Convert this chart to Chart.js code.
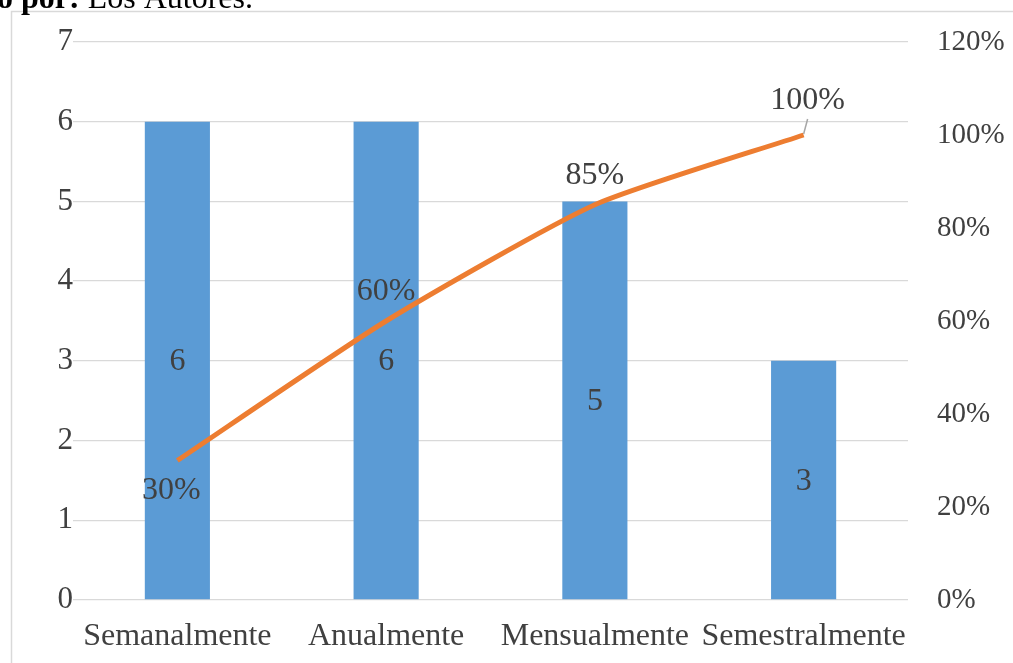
<!DOCTYPE html>
<html>
<head>
<meta charset="utf-8">
<script src="https://cdn.jsdelivr.net/npm/chart.js@4.4.0/dist/chart.umd.min.js"></script>
<style>
  html,body{margin:0;padding:0;background:#fff;overflow:hidden;}
  #wrap{position:relative;width:1013px;height:663px;}
</style>
</head>
<body>
<div id="wrap"><canvas id="c" width="1013" height="663"></canvas></div>
<script>
const categories = ['Semanalmente', 'Anualmente', 'Mensualmente', 'Semestralmente'];
const frequency = [6, 6, 5, 3];
const cumulativePct = [30, 60, 85, 100];
const leftTicks = [0, 1, 2, 3, 4, 5, 6, 7];
const rightTicks = [0, 20, 40, 60, 80, 100, 120];
const lineLabelSide = ['below', 'above', 'above', 'above'];
const captionBold = 'o por:';
const captionRest = ' Los Autores.';

const FONT = "'Liberation Serif', 'Times New Roman', serif";
const TEXT = '#404040';

const decor = {
  id: 'decor',
  beforeDraw(chart) {
    const ctx = chart.ctx;
    ctx.save();
    ctx.fillStyle = '#fff';
    ctx.fillRect(0, 0, chart.width, chart.height);
    ctx.strokeStyle = '#d9d9d9';
    ctx.lineWidth = 1.5;
    ctx.beginPath();
    ctx.moveTo(11.5, chart.height + 2);
    ctx.lineTo(11.5, 11.5);
    ctx.lineTo(chart.width + 2, 11.5);
    ctx.stroke();
    ctx.fillStyle = '#000';
    ctx.textBaseline = 'alphabetic';
    ctx.textAlign = 'left';
    ctx.font = 'bold 32px ' + FONT;
    ctx.fillText(captionBold, -3, 8);
    const w = ctx.measureText(captionBold).width;
    ctx.font = '32px ' + FONT;
    ctx.fillText(captionRest, -3 + w, 8);
    ctx.restore();
  },
  afterDatasetsDraw(chart) {
    const ctx = chart.ctx;
    const x = chart.scales.x, y = chart.scales.y, y2 = chart.scales.y2;
    ctx.save();
    ctx.font = '32px ' + FONT;
    ctx.fillStyle = TEXT;
    ctx.textAlign = 'center';
    ctx.textBaseline = 'middle';
    frequency.forEach((v, i) => {
      const px = x.getPixelForValue(i);
      const py = (y.getPixelForValue(v) + y.getPixelForValue(0)) / 2;
      ctx.fillText(String(v), px, py + 1);
    });
    cumulativePct.forEach((v, i) => {
      const px = x.getPixelForValue(i);
      const py = y2.getPixelForValue(v);
      let lx = px, ly;
      if (lineLabelSide[i] === 'below') { ly = py + 30; lx = px - 6; }
      else if (i === cumulativePct.length - 1) {
        ly = py - 34; lx = px + 4;
        ctx.strokeStyle = '#a6a6a6';
        ctx.lineWidth = 1.5;
        ctx.beginPath();
        ctx.moveTo(px, py - 1);
        ctx.lineTo(px + 4, py - 16);
        ctx.stroke();
      } else { ly = py - 29; }
      ctx.fillText(v + '%', lx, ly);
    });
    ctx.restore();
  }
};

Chart.defaults.font.family = FONT;
Chart.defaults.font.size = 32;
Chart.defaults.color = TEXT;

new Chart(document.getElementById('c'), {
  type: 'bar',
  data: {
    labels: categories,
    datasets: [
      {
        type: 'line',
        data: cumulativePct,
        yAxisID: 'y2',
        borderColor: '#ED7D31',
        borderWidth: 5,
        pointRadius: 0,
        tension: 0.2,
        fill: false,
        borderCapStyle: 'butt',
        order: 0
      },
      {
        type: 'bar',
        data: frequency,
        yAxisID: 'y',
        backgroundColor: '#5B9BD5',
        categoryPercentage: 1,
        barPercentage: 0.312,
        order: 1
      }
    ]
  },
  options: {
    responsive: false,
    animation: false,
    devicePixelRatio: 1,
    layout: { padding: { top: 42, left: 0, right: 0, bottom: 0 } },
    plugins: { legend: { display: false }, tooltip: { enabled: false } },
    scales: {
      x: {
        grid: { display: false, drawTicks: false },
        border: { display: false },
        ticks: { padding: 17, font: { size: 32 }, color: TEXT, maxRotation: 0, autoSkip: false },
        afterFit(s) { s.height = 63; s.paddingLeft = 0; s.paddingRight = 0; }
      },
      y: {
        position: 'left',
        min: 0, max: 7,
        afterBuildTicks(s) { s.ticks = leftTicks.map(v => ({ value: v })); },
        grid: { color: '#d9d9d9', lineWidth: 1.3, drawTicks: false },
        border: { display: false },
        ticks: { crossAlign: 'center', padding: 0, font: { size: 31 }, color: TEXT },
        afterFit(s) { s.width = 73; s.paddingTop = 0; s.paddingBottom = 0; }
      },
      y2: {
        position: 'right',
        min: 0, max: 120,
        afterBuildTicks(s) { s.ticks = rightTicks.map(v => ({ value: v })); },
        grid: { display: false, drawTicks: false },
        border: { display: false },
        ticks: { padding: 29, crossAlign: 'near', font: { size: 29 }, color: TEXT, callback: v => v + '%' },
        afterFit(s) { s.width = 105; s.paddingTop = 0; s.paddingBottom = 0; }
      }
    }
  },
  plugins: [decor]
});
</script>
</body>
</html>
